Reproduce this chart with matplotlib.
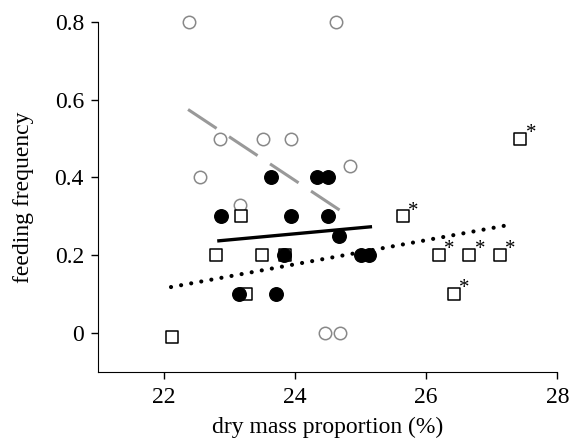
import matplotlib
matplotlib.use("Agg")
import matplotlib.pyplot as plt

plt.rcParams['font.family'] = ['Liberation Serif', 'DejaVu Serif']

# open grey circles
grey_x = [22.38, 22.86, 22.55, 23.52, 23.94, 23.16, 24.63, 24.84, 24.46, 24.68]
grey_y = [0.80, 0.50, 0.40, 0.50, 0.50, 0.33, 0.80, 0.43, 0.00, 0.00]
# filled black circles
black_x = [22.87, 23.63, 23.94, 23.83, 23.14, 23.71, 24.34, 24.50, 24.51, 24.67, 25.00, 25.13]
black_y = [0.30, 0.40, 0.30, 0.20, 0.10, 0.10, 0.40, 0.40, 0.30, 0.25, 0.20, 0.20]
# open squares (no asterisk)
sq_x = [23.18, 22.79, 23.50, 23.85, 23.26, 22.13]
sq_y = [0.30, 0.20, 0.20, 0.20, 0.10, -0.01]
# open squares flagged with asterisk
sqs_x = [25.64, 27.43, 26.19, 26.66, 27.12, 26.42]
sqs_y = [0.30, 0.50, 0.20, 0.20, 0.20, 0.10]

# regression lines (endpoints)
grey_line_x = [22.37, 24.70]
grey_line_y = [0.575, 0.314]
black_line_x = [22.84, 25.15]
black_line_y = [0.237, 0.273]
dot_line_x = [22.11, 27.30]
dot_line_y = [0.118, 0.279]

xticks = [22, 24, 26, 28]
yticks = [0, 0.2, 0.4, 0.6, 0.8]
ytick_labels = ['0', '0.2', '0.4', '0.6', '0.8']

fig = plt.figure(figsize=(5.71, 4.41), dpi=100)
ax = fig.add_axes([0.172, 0.157, 0.804, 0.793])

ax.plot(grey_line_x, grey_line_y, color='#999999', lw=2.2, dashes=(11.2, 4.9), solid_capstyle='butt', zorder=2)
ax.plot(black_line_x, black_line_y, color='black', lw=2.4, zorder=2)
ax.plot(dot_line_x, dot_line_y, color='black', lw=3.0, linestyle=(0, (0.01, 2.45)), dash_capstyle='round', zorder=2)

ax.scatter(grey_x, grey_y, s=80, facecolors='white', edgecolors='#888888', linewidths=1.1, zorder=3, clip_on=False)
ax.scatter(sq_x, sq_y, marker='s', s=64, facecolors='white', edgecolors='black', linewidths=1.1, zorder=3, clip_on=False)
ax.scatter(sqs_x, sqs_y, marker='s', s=64, facecolors='white', edgecolors='black', linewidths=1.1, zorder=3, clip_on=False)
ax.scatter(black_x, black_y, s=95, color='black', zorder=4, clip_on=False)
for x, y in zip(sqs_x, sqs_y):
    ax.annotate('*', (x, y), xytext=(7.8, 0.5), textcoords='offset points', fontsize=15, ha='center', va='baseline')

ax.set_xlim(21, 28)
ax.set_ylim(-0.1, 0.8)
ax.set_xticks(xticks)
ax.set_yticks(yticks)
ax.set_yticklabels(ytick_labels)
ax.spines['top'].set_visible(False)
ax.spines['right'].set_visible(False)
ax.tick_params(direction='out', length=4.8, width=1, labelsize=17)
ax.tick_params(axis='y', pad=5.5)
ax.tick_params(axis='x', pad=6.5)
ax.set_xlabel('dry mass proportion (%)', fontsize=17, labelpad=6)
ax.set_ylabel('feeding frequency', fontsize=17, labelpad=15)

fig.savefig('out.png', dpi=100)
